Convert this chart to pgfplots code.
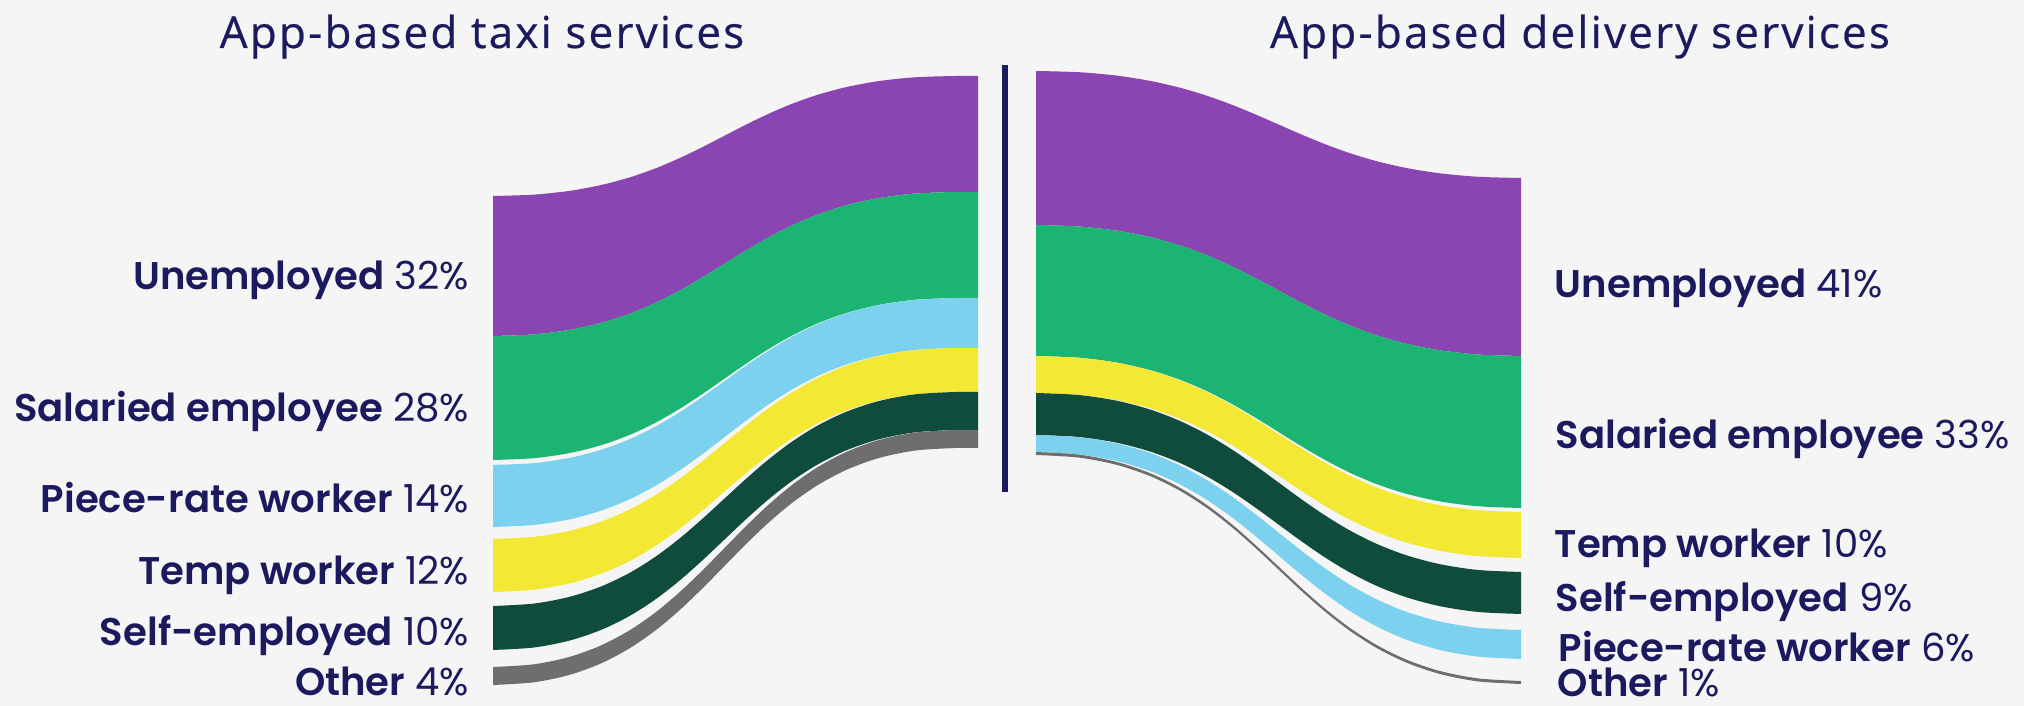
\documentclass[border=0pt]{standalone}
\usepackage{fontspec}
\setmainfont{Poppins}[BoldFont={Poppins SemiBold}]
\newfontfamily\titlefont{Open Sans}[LetterSpace=5,FakeBold=0.5]
\usepackage{pgfplots}
\usepackage{pgfplotstable}
\pgfplotsset{compat=1.18}
\usepgfplotslibrary{fillbetween}
\definecolor{bgc}{RGB}{245,245,245}
\definecolor{navy}{RGB}{28,26,94}
\definecolor{cPur}{RGB}{139,69,179}
\definecolor{cGrn}{RGB}{27,180,115}
\definecolor{cLbl}{RGB}{124,210,238}
\definecolor{cYel}{RGB}{243,233,53}
\definecolor{cDgr}{RGB}{16,76,60}
\definecolor{cGry}{RGB}{110,110,110}
% unit S-shaped connector (horizontal run s, vertical share f)
\pgfplotstableread{
s f
0 0
0.088135 0.011230
0.166016 0.042969
0.235107 0.092285
0.296875 0.156250
0.352783 0.231934
0.404297 0.316406
0.452881 0.406738
0.5 0.5
0.547119 0.593262
0.595703 0.683594
0.647217 0.768066
0.703125 0.843750
0.764893 0.907715
0.833984 0.957031
0.911865 0.988770
1 1
}\shapeR
\pgfplotstableread{
s f
0 0
0.088135 0.011230
0.166016 0.042969
0.235107 0.092285
0.296875 0.156250
0.352783 0.231934
0.404297 0.316406
0.452881 0.406738
0.5 0.5
0.547119 0.593262
0.595703 0.683594
0.647217 0.768066
0.703125 0.843750
0.764893 0.907715
0.833984 0.957031
0.911865 0.988770
1 1
1.0498 1
}\shapeL
% band edges: name, y at outer end, y at centre
\newcommand\lcurve[3]{\addplot[draw=none,smooth,name path=#1] table[x expr={493+462*\thisrow{s}}, y expr={#2+((#3)-(#2))*\thisrow{f}}] {\shapeL};}
\newcommand\rcurve[3]{\addplot[draw=none,smooth,name path=#1] table[x expr={1036+485*\thisrow{s}}, y expr={#2+((#3)-(#2))*\thisrow{f}}] {\shapeR};}
\begin{document}
\begin{tikzpicture}
\begin{axis}[width=506pt,height=176.5pt,scale only axis,
  xmin=0,xmax=2024,ymin=0,ymax=706,y dir=reverse,
  axis line style={draw=none},ticks=none,
  axis background/.style={fill=bgc},clip=false]
% ---------- left half: taxi (outer end -> centre) ----------
\lcurve{L1}{196}{76}
\lcurve{L2}{336}{192}
\lcurve{L3}{460}{298}
\lcurve{L4}{465}{298}
\lcurve{L5}{527}{348}
\lcurve{L6}{539}{348}
\lcurve{L7}{592}{392}
\lcurve{L8}{606}{392}
\lcurve{L9}{650}{430}
\lcurve{L10}{667}{430}
\lcurve{L11}{685}{448}
\addplot[fill=cPur,draw=none] fill between[of=L1 and L2];
\addplot[fill=cGrn,draw=none] fill between[of=L2 and L3];
\addplot[fill=cLbl,draw=none] fill between[of=L4 and L5];
\addplot[fill=cYel,draw=none] fill between[of=L6 and L7];
\addplot[fill=cDgr,draw=none] fill between[of=L8 and L9];
\addplot[fill=cGry,draw=none] fill between[of=L10 and L11];
% ---------- right half: delivery (centre -> outer end) ----------
\rcurve{R1}{71}{178}
\rcurve{R2}{225}{356}
\rcurve{R3}{356}{508}
\rcurve{R4}{356}{512}
\rcurve{R5}{393}{558}
\rcurve{R6}{393}{572}
\rcurve{R7}{435}{614}
\rcurve{R8}{435}{630}
\rcurve{R9}{452}{659}
\rcurve{R10}{452}{681}
\rcurve{R11}{455}{684}
\addplot[fill=cPur,draw=none] fill between[of=R1 and R2];
\addplot[fill=cGrn,draw=none] fill between[of=R2 and R3];
\addplot[fill=cYel,draw=none] fill between[of=R4 and R5];
\addplot[fill=cDgr,draw=none] fill between[of=R6 and R7];
\addplot[fill=cLbl,draw=none] fill between[of=R8 and R9];
\addplot[fill=cGry,draw=none] fill between[of=R10 and R11];
% centre divider
\addplot[navy,line width=1.3pt] coordinates {(1005,65) (1005,492)};
% titles
\node[anchor=base,inner sep=0,text=navy,font=\titlefont\fontsize{11pt}{13pt}\selectfont] at (axis cs:482,48) {App-based taxi services};
\node[anchor=base,inner sep=0,text=navy,font=\titlefont\fontsize{11pt}{13pt}\selectfont] at (axis cs:1580,48) {App-based delivery services};
% labels
\tikzset{lab/.style={inner sep=0,text=navy,font=\fontsize{9.65pt}{12pt}\selectfont}}
\node[lab,anchor=base east] at (axis cs:470,290) {\textbf{Unemployed} 32\%};
\node[lab,anchor=base east] at (axis cs:470,422) {\textbf{Salaried employee} 28\%};
\node[lab,anchor=base east] at (axis cs:470,513) {\textbf{Piece-rate worker} 14\%};
\node[lab,anchor=base east] at (axis cs:470,585) {\textbf{Temp worker} 12\%};
\node[lab,anchor=base east] at (axis cs:470,646) {\textbf{Self-employed} 10\%};
\node[lab,anchor=base east] at (axis cs:470,696) {\textbf{Other} 4\%};
\node[lab,anchor=base west] at (axis cs:1554,298) {\textbf{Unemployed} 41\%};
\node[lab,anchor=base west] at (axis cs:1555,449) {\textbf{Salaried employee} 33\%};
\node[lab,anchor=base west] at (axis cs:1554,558) {\textbf{Temp worker} 10\%};
\node[lab,anchor=base west] at (axis cs:1555,612) {\textbf{Self-employed} 9\%};
\node[lab,anchor=base west] at (axis cs:1558,662) {\textbf{Piece-rate worker} 6\%};
\node[lab,anchor=base west] at (axis cs:1557,697) {\textbf{Other} 1\%};
\end{axis}
\pgfresetboundingbox
\path[use as bounding box] (current axis.south west) rectangle (current axis.north east);
\end{tikzpicture}
\end{document}
